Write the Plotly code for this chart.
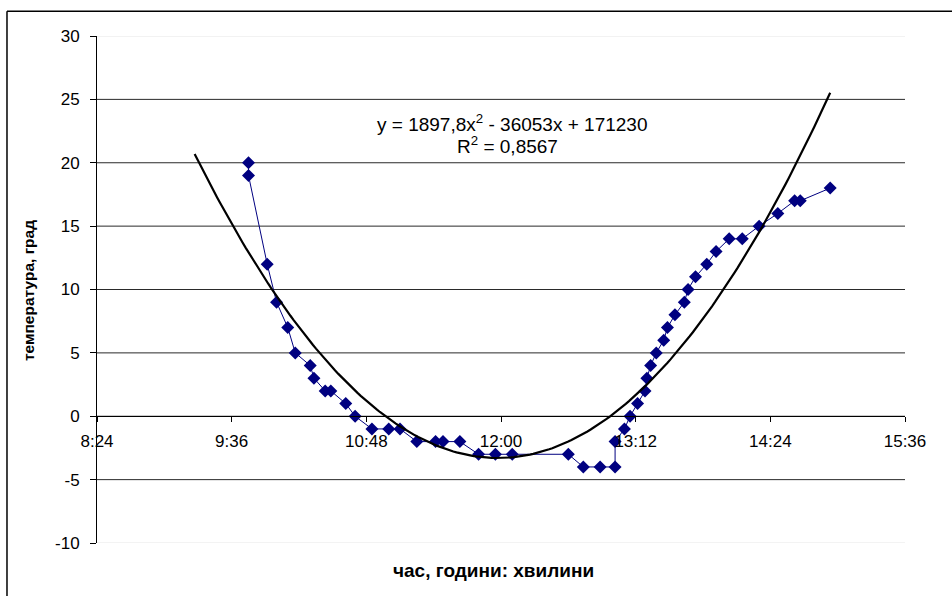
import numpy as np
import plotly.graph_objects as go

# ---- data ----
TIMES = ["9:45", "9:45", "9:55", "10:00", "10:06", "10:10", "10:18", "10:20", "10:26", "10:29",
         "10:37", "10:42", "10:51", "11:00", "11:06", "11:15", "11:25", "11:29", "11:38", "11:48",
         "11:57", "12:06", "12:36", "12:44", "12:53", "13:01", "13:01", "13:06", "13:09", "13:13",
         "13:17", "13:18", "13:20", "13:23", "13:27", "13:29", "13:33", "13:38", "13:40", "13:44",
         "13:50", "13:55", "14:02", "14:09", "14:18", "14:28", "14:37", "14:40", "14:56"]
TEMPS = [20, 19, 12, 9, 7, 5, 4, 3, 2, 2,
         1, 0, -1, -1, -1, -2, -2, -2, -2, -3,
         -3, -3, -3, -4, -4, -4, -2, -1, 0, 1,
         2, 3, 4, 5, 6, 7, 8, 9, 10, 11,
         12, 13, 14, 14, 15, 16, 17, 17, 18]

X_TICK_LABELS = ["8:24", "9:36", "10:48", "12:00", "13:12", "14:24", "15:36"]
Y_TICKS = [-10, -5, 0, 5, 10, 15, 20, 25, 30]
Y_TICK_LABELS = ["-10", "-5", "0", "5", "10", "15", "20", "25", "30"]

EQ_TEXT = "y = 1897,8x<sup>2</sup> - 36053x + 171230"
R2_TEXT = "R<sup>2</sup> = 0,8567"
X_TITLE = "час, години: хвилини"
Y_TITLE = "температура, град"

# trendline forecast (days): backward 0.02, forward 0
BACK_DAYS = 0.02
FWD_DAYS = 0.0


def to_min(s):
    h, m = s.split(":")
    return int(h) * 60 + int(m)


x = np.array([to_min(t) for t in TIMES], dtype=float)
y = np.array(TEMPS, dtype=float)
xt = np.array([to_min(t) for t in X_TICK_LABELS], dtype=float)

# quadratic trendline (polynomial order 2)
coef = np.polyfit(x, y, 2)
x_tr = np.linspace(x.min() - BACK_DAYS * 1440, x.max() + FWD_DAYS * 1440, 200)
y_tr = np.polyval(coef, x_tr)

FONT = "Liberation Sans, Arial, sans-serif"

fig = go.Figure()
fig.add_trace(go.Scatter(
    x=x, y=y, mode="lines+markers",
    line=dict(color="#000080", width=1),
    marker=dict(symbol="diamond", size=10, color="#000080"),
    showlegend=False, cliponaxis=False,
))
fig.add_trace(go.Scatter(
    x=x_tr, y=y_tr, mode="lines",
    line=dict(color="black", width=2.2),
    showlegend=False, cliponaxis=False,
))

shapes = []
for v in Y_TICKS:
    edge = v in (Y_TICKS[0], Y_TICKS[-1])
    shapes.append(dict(type="line", xref="paper", yref="y", x0=0, x1=1, y0=v, y1=v,
                       line=dict(color="#e6e6e6" if edge else "#2a2a2a", width=1),
                       layer="below"))
# outer chart frame (left and top edges; right/bottom lie outside the view)
FR_L, FR_T = -0.1114, 1.049
shapes.append(dict(type="line", xref="paper", yref="paper",
                   x0=FR_L, x1=FR_L, y0=-0.2, y1=FR_T,
                   line=dict(color="black", width=1.5), layer="above"))
shapes.append(dict(type="line", xref="paper", yref="paper",
                   x0=FR_L, x1=1.2, y0=FR_T, y1=FR_T,
                   line=dict(color="black", width=1.5), layer="above"))

fig.update_layout(
    width=952, height=596,
    margin=dict(l=97, r=47, t=36, b=53),
    paper_bgcolor="white", plot_bgcolor="white",
    font=dict(family=FONT, size=17, color="black"),
    xaxis=dict(
        range=[xt[0], xt[-1]], tickvals=xt, ticktext=X_TICK_LABELS,
        anchor="free", position=(0 - Y_TICKS[0]) / (Y_TICKS[-1] - Y_TICKS[0]),
        showline=True, linecolor="black", linewidth=1,
        ticks="outside", ticklen=5, tickcolor="black",
        ticklabelstandoff=4,
        showgrid=False, zeroline=False,
    ),
    yaxis=dict(
        range=[Y_TICKS[0], Y_TICKS[-1]], tickvals=Y_TICKS, ticktext=Y_TICK_LABELS,
        showline=True, linecolor="black", linewidth=1,
        ticks="outside", ticklen=6, tickcolor="black",
        ticklabelstandoff=7,
        showgrid=False, zeroline=False,
    ),
    shapes=shapes,
    annotations=[
        dict(text=EQ_TEXT, xref="paper", yref="paper", x=0.514, y=0.828,
             xanchor="center", yanchor="middle", showarrow=False, font=dict(size=19)),
        dict(text=R2_TEXT, xref="paper", yref="paper", x=0.508, y=0.785,
             xanchor="center", yanchor="middle", showarrow=False, font=dict(size=19)),
        dict(text="<b>" + X_TITLE + "</b>", xref="paper", yref="paper", x=0.491, y=-0.0552,
             xanchor="center", yanchor="middle", showarrow=False, font=dict(size=19)),
        dict(text="<b>" + Y_TITLE + "</b>", xref="paper", yref="paper", x=-0.0854, y=0.499,
             xanchor="center", yanchor="middle", showarrow=False, textangle=-90,
             font=dict(size=15.5)),
    ],
)

fig.write_html("out.html", config={"displayModeBar": False},
               post_script="document.body.style.margin='0';document.body.style.padding='0';")
